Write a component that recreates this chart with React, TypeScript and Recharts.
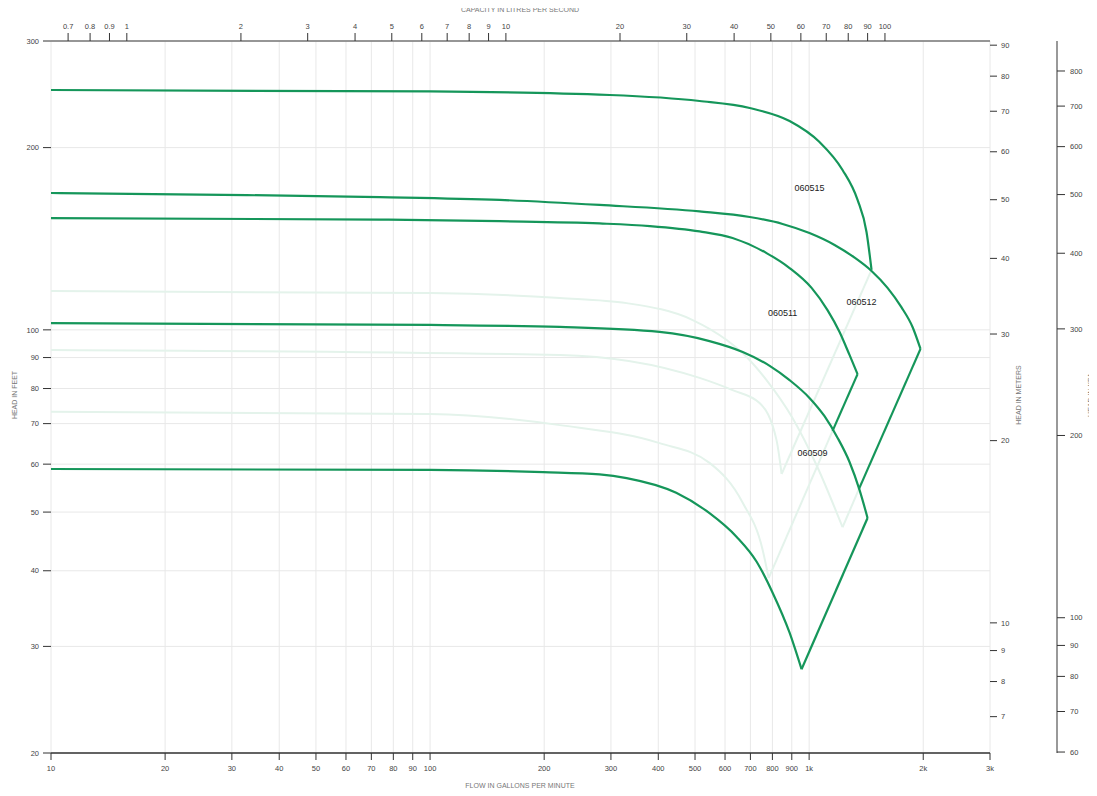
import React from 'react'
import {
  LineChart,
  Line,
  XAxis,
  YAxis,
  CartesianGrid,
  ReferenceDot
} from 'recharts'

type Pt = [number, number]

// flow in US gpm, head in feet
const curve060515: Pt[] = [
  [10, 249], [100, 247.6], [298, 244.3], [514, 238.8], [697, 232.5], [888, 221.3],
  [1065, 204.3], [1225, 183.7], [1342, 163.9], [1417, 145.1], [1461, 125.6]
]
const curve060512: Pt[] = [
  [10, 168.3], [24.7, 167.3], [73.7, 165.7], [152.7, 163.9], [280, 160.8],
  [514, 156.9], [697, 153.6], [851, 149.6], [1002, 144.5], [1167, 138.1],
  [1318, 131.6], [1461, 125.1], [1610, 117.3], [1753, 108.9], [1874, 101.1], [1967, 93]
]
const curve060511: Pt[] = [
  [10, 153], [73.7, 152.1], [152.7, 151.2], [280, 149.9], [380, 148.4], [514, 145.4],
  [628, 141.8], [772, 133.9], [888, 126.5], [1015, 117.3], [1118, 107.8],
  [1203, 99.2], [1278, 90.9], [1342, 84.5]
]
const curve060509: Pt[] = [
  [10, 102.6], [100, 101.9], [220, 101.1], [403, 99.2], [546, 95.8], [668, 91.9],
  [787, 87.2], [888, 82.6], [1002, 77.2], [1098, 72], [1189, 66.3], [1278, 60.5],
  [1358, 54.4], [1426, 48.9]
]
const curveLow: Pt[] = [
  [10, 58.9], [100, 58.7], [199, 58.2], [280, 57.7], [330, 56.9], [446, 53.8],
  [546, 49.8], [644, 45.5], [727, 41.4], [801, 36.8], [888, 31.6], [955, 27.5]
]
// faded trims
const trimA: Pt[] = [
  [10, 115.9], [100, 115], [220, 112.9], [330, 110.7], [493, 103.8], [606, 96.2],
  [684, 90.2], [772, 82.6], [904, 71.5], [1052, 59.3], [1225, 47.2]
]
const trimB: Pt[] = [
  [10, 92.6], [220, 90.9], [514, 83.3], [628, 79.5], [740, 75.7], [820, 65.8], [846, 57.8]
]
const trimC: Pt[] = [
  [10, 73.2], [100, 72.6], [220, 69.6], [403, 65], [546, 60.3], [668, 51.8],
  [754, 43.3], [782, 38.9]
]
// end-of-curve lines
const edge060515: Pt[] = [[1461, 125.6], [846, 57.8]]
const edge060512: Pt[] = [[1967, 93], [1352, 54.5]]
const edge060512Faint: Pt[] = [[1352, 54.5], [1225, 47.2]]
const edge060511: Pt[] = [[1342, 84.5], [1153, 68.1]]
const edge060511Faint: Pt[] = [[1153, 68.1], [782, 38.9]]
const edge060509: Pt[] = [[1426, 48.9], [955, 27.5]]

const modelLabels = [
  { name: '060515', q: 1002, h: 171.5 },
  { name: '060512', q: 1374, h: 111.2 },
  { name: '060511', q: 851, h: 106.6 },
  { name: '060509', q: 1021, h: 62.6 }
]

const gpmTicks = [10, 20, 30, 40, 50, 60, 70, 80, 90, 100, 200, 300, 400, 500, 600, 700, 800, 900, 1000, 2000, 3000]
const lpsTicks = [0.7, 0.8, 0.9, 1, 2, 3, 4, 5, 6, 7, 8, 9, 10, 20, 30, 40, 50, 60, 70, 80, 90, 100]
const feetTicks = [20, 30, 40, 50, 60, 70, 80, 90, 100, 200, 300]
const meterTicks = [7, 8, 9, 10, 20, 30, 40, 50, 60, 70, 80, 90]
const kpaTicks = [60, 70, 80, 90, 100, 200, 300, 400, 500, 600, 700, 800]

const GPM_PER_LPS = 15.850
const FT_PER_M = 3.28084
const KPA_PER_FT = 2.98898

const GREEN = '#15965a'
const FAINT = '#e4f3eb'
const FONT = '"Liberation Sans", Arial, sans-serif'

const rows = (pts: Pt[]) => pts.map(([q, h]) => ({ q, h }))

const faintSeries = [trimA, trimB, trimC, edge060515, edge060512Faint, edge060511Faint]
const boldSeries = [curve060515, curve060512, curve060511, curve060509, curveLow, edge060512, edge060511, edge060509]

// binds the litres-per-second axis to the same range, draws nothing
const lpsRange = [
  { q: 10 / GPM_PER_LPS, h: 300 },
  { q: 3000 / GPM_PER_LPS, h: 20 }
]

const tickStyle = { fontSize: 7.5, fill: '#444', fontFamily: FONT }

function AxisTitle({ text, tx, ty, vertical }: { text: string; tx: number; ty: number; vertical?: boolean }) {
  return (
    <text
      x={tx}
      y={ty}
      textAnchor="middle"
      dominantBaseline="central"
      fontSize={7}
      fill="#777"
      fontFamily={FONT}
      transform={vertical ? `rotate(-90 ${tx} ${ty})` : undefined}
    >
      {text}
    </text>
  )
}

export default function App() {
  return (
    <div style={{ margin: -8 }}>
      <style>{'html, body { overflow: hidden; }'}</style>
      <LineChart width={1097} height={796} margin={{ top: 8, right: 8, bottom: 13, left: 13 }}>
        <CartesianGrid stroke="#e8e8e8" strokeWidth={1} />
        <XAxis
          dataKey="q"
          type="number"
          scale="log"
          domain={[10, 3000]}
          allowDataOverflow
          ticks={gpmTicks}
          interval={0}
          height={30}
          tickSize={7}
          tickMargin={6}
          tick={tickStyle}
          tickLine={{ stroke: '#333' }}
          axisLine={{ stroke: '#333', strokeWidth: 1.5 }}
          tickFormatter={(v: number) => (v >= 1000 ? `${v / 1000}k` : String(v))}
          label={<AxisTitle text="FLOW IN GALLONS PER MINUTE" tx={520} ty={785} />}
        />
        <XAxis
          xAxisId="top"
          dataKey="q"
          orientation="top"
          type="number"
          scale="log"
          domain={[10 / GPM_PER_LPS, 3000 / GPM_PER_LPS]}
          allowDataOverflow
          ticks={lpsTicks}
          interval={0}
          height={33}
          tickSize={8}
          tickMargin={4}
          tick={tickStyle}
          tickLine={{ stroke: '#333' }}
          axisLine={{ stroke: '#777', strokeWidth: 1.5 }}
          label={<AxisTitle text="CAPACITY IN LITRES PER SECOND" tx={520} ty={9} />}
        />
        <YAxis
          type="number"
          scale="log"
          domain={[20, 300]}
          allowDataOverflow
          ticks={feetTicks}
          interval={0}
          width={38}
          tickSize={8}
          tickMargin={4}
          tick={tickStyle}
          tickLine={{ stroke: '#333' }}
          axisLine={false}
          label={<AxisTitle text="HEAD IN FEET" tx={14} ty={395} vertical />}
        />
        <YAxis
          yAxisId="b_kpa"
          orientation="right"
          type="number"
          scale="log"
          domain={[20 * KPA_PER_FT, 300 * KPA_PER_FT]}
          allowDataOverflow
          ticks={kpaTicks}
          interval={0}
          width={32}
          tickSize={8}
          tickMargin={5}
          tick={tickStyle}
          tickLine={{ stroke: '#333' }}
          axisLine={{ stroke: '#777', strokeWidth: 1.5 }}
          label={<AxisTitle text="HEAD IN KPA" tx={1090} ty={395} vertical />}
        />
        <YAxis
          yAxisId="a_m"
          orientation="right"
          type="number"
          scale="log"
          domain={[20 / FT_PER_M, 300 / FT_PER_M]}
          allowDataOverflow
          ticks={meterTicks}
          interval={0}
          width={67}
          tickSize={7}
          tickMargin={4}
          tick={tickStyle}
          tickLine={{ stroke: '#333' }}
          axisLine={false}
          label={<AxisTitle text="HEAD IN METERS" tx={1018} ty={395} vertical />}
        />
        <Line
          xAxisId="top"
          data={lpsRange}
          dataKey="h"
          stroke="none"
          dot={false}
          activeDot={false}
          isAnimationActive={false}
        />
        {faintSeries.map((pts, i) => (
          <Line
            key={'f' + i}
            data={rows(pts)}
            dataKey="h"
            type="monotone"
            stroke={FAINT}
            strokeWidth={2}
            dot={false}
            activeDot={false}
            isAnimationActive={false}
          />
        ))}
        {boldSeries.map((pts, i) => (
          <Line
            key={'b' + i}
            data={rows(pts)}
            dataKey="h"
            type="monotone"
            stroke={GREEN}
            strokeWidth={2.2}
            dot={false}
            activeDot={false}
            isAnimationActive={false}
          />
        ))}
        {modelLabels.map((m) => (
          <ReferenceDot
            key={m.name}
            x={m.q}
            y={m.h}
            r={0}
            fill="none"
            stroke="none"
            label={{ value: m.name, position: 'center', fontSize: 9, fill: '#222', fontFamily: FONT }}
          />
        ))}
      </LineChart>
    </div>
  )
}
